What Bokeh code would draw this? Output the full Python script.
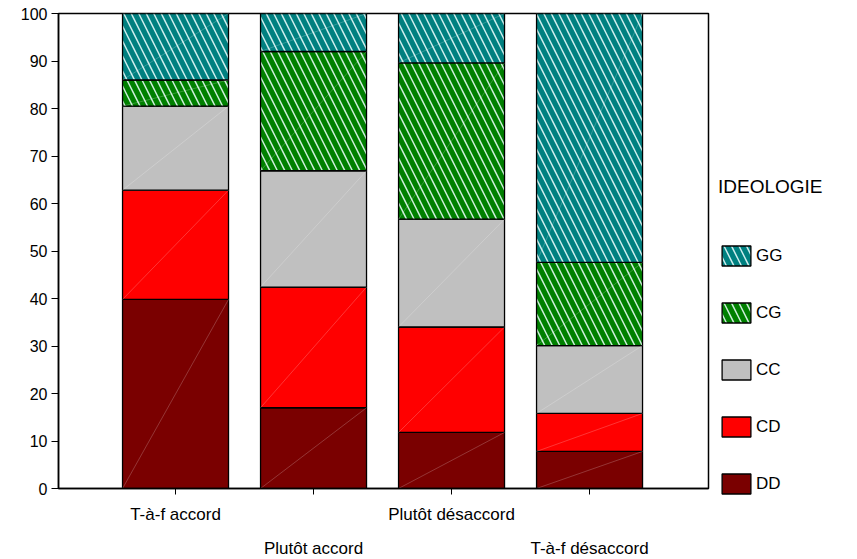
from bokeh.plotting import figure
from bokeh.models import Range1d, FixedTicker, LinearAxis, Legend, LegendItem, ColumnDataSource
from bokeh.embed import file_html
from bokeh.resources import INLINE

categories = ["T-à-f accord", "Plutôt accord", "Plutôt désaccord", "T-à-f désaccord"]
groups = ["DD", "CD", "CC", "CG", "GG"]
DD = [39.8, 17.0, 11.8, 7.8]
CD = [23.0, 25.4, 22.2, 8.0]
CC = [17.7, 24.5, 22.7, 14.3]
CG = [5.5, 25.1, 32.9, 17.5]
GG = [14.0, 8.0, 10.4, 52.4]
y_ticks = [0, 10, 20, 30, 40, 50, 60, 70, 80, 90, 100]

colors = ["#7a0000", "#ff0000", "#c0c0c0", "#008000", "#008080"]
hatches = [None, None, None, "\\", "\\"]
FONT = "Liberation Sans"

xs = [1, 2, 3, 4]
bar_w = 0.768
series = {"DD": DD, "CD": CD, "CC": CC, "CG": CG, "GG": GG}
data = dict(x=xs, **series)
source = ColumnDataSource(data)

p = figure(frame_width=650, frame_height=475, output_backend="svg", toolbar_location=None,
           x_range=Range1d(0.152, 4.862), y_range=Range1d(0, 100),
           min_border_left=58, min_border_top=13, min_border_right=141, min_border_bottom=10,
           background_fill_color="white", border_fill_color="white")
p.xgrid.visible = False
p.ygrid.visible = False
p.outline_line_color = "black"
p.outline_line_width = 1.5

renderers = p.vbar_stack(groups, x="x", width=bar_w, source=source,
                         fill_color=colors, line_color="black", line_width=1.3,
                         hatch_pattern=hatches, hatch_color="#f0ffff", hatch_alpha=0.85,
                         hatch_weight=1.5, hatch_scale=15)

# faint diagonal in each segment
x0s, y0s, x1s, y1s = [], [], [], []
for i, xv in enumerate(xs):
    base = 0.0
    for g in groups:
        top = base + series[g][i]
        x0s.append(xv - bar_w / 2); y0s.append(base)
        x1s.append(xv + bar_w / 2); y1s.append(top)
        base = top
p.segment(x0=x0s, y0=y0s, x1=x1s, y1=y1s, line_color="white", line_alpha=0.3, line_width=0.7)

# y axis
ya = p.yaxis[0]
ya.ticker = FixedTicker(ticks=y_ticks)
ya.major_tick_out = 7
ya.major_tick_in = 0
ya.minor_tick_line_color = None
ya.axis_line_color = "black"
ya.axis_line_width = 1.5
ya.major_tick_line_color = "black"
ya.major_label_standoff = 4
ya.major_label_text_font = FONT
ya.major_label_text_font_size = "16px"
ya.major_label_text_color = "black"

# x axis (row 1)
xa = p.xaxis[0]
xa.ticker = FixedTicker(ticks=xs)
xa.major_label_overrides = {1: categories[0], 2: "", 3: categories[2], 4: ""}
xa.major_tick_out = 6
xa.major_tick_in = 0
xa.minor_tick_line_color = None
xa.axis_line_color = "black"
xa.axis_line_width = 1.5
xa.major_tick_line_color = "black"
xa.major_label_standoff = 10
xa.major_label_text_font = FONT
xa.major_label_text_font_size = "17px"
xa.major_label_text_color = "black"

# x axis (row 2, staggered labels)
xa2 = LinearAxis(ticker=FixedTicker(ticks=[2, 4]),
                 major_label_overrides={2: categories[1], 4: categories[3]},
                 axis_line_color=None, major_tick_line_color=None, minor_tick_line_color=None,
                 major_tick_out=0, major_tick_in=0, major_label_standoff=12,
                 major_label_text_font=FONT, major_label_text_font_size="17px",
                 major_label_text_color="black")
p.add_layout(xa2, "below")

items = [LegendItem(label=g, renderers=[r]) for g, r in reversed(list(zip(groups, renderers)))]
legend = Legend(items=items, title="IDEOLOGIE", location=(10, -8),
                glyph_width=36, glyph_height=25, label_height=25, spacing=32,
                padding=0, margin=0, border_line_color=None, background_fill_alpha=0,
                label_text_font=FONT, label_text_font_size="17px", label_standoff=2,
                label_text_color="black",
                title_text_font=FONT, title_text_font_size="19px", title_text_font_style="normal",
                title_text_color="black", title_standoff=45)
p.add_layout(legend, "right")

open("out.html", "w").write(file_html(p, INLINE))
